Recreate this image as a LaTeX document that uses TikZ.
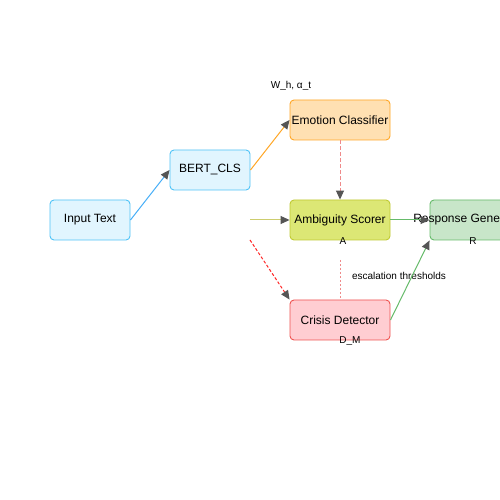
\documentclass[tikz,border=0pt]{standalone}
\usepackage{fontspec}
\setmainfont{Liberation Sans}
\usetikzlibrary{arrows.meta, positioning}

\definecolor{inFill}{HTML}{E1F5FE}
\definecolor{inDraw}{HTML}{4FC3F7}
\definecolor{emoFill}{HTML}{FFE0B2}
\definecolor{emoDraw}{HTML}{FFA726}
\definecolor{ambFill}{HTML}{DCE775}
\definecolor{ambDraw}{HTML}{C0CA33}
\definecolor{ambLine}{HTML}{CDCD6E}
\definecolor{resFill}{HTML}{C8E6C9}
\definecolor{resDraw}{HTML}{66BB6A}
\definecolor{criFill}{HTML}{FFCDD2}
\definecolor{criDraw}{HTML}{EF5350}
\definecolor{dashRed}{HTML}{EF8A8A}
\definecolor{headGray}{HTML}{555555}

\begin{document}
\begin{tikzpicture}[
    x=50pt, y=50pt,
    box/.style={rectangle, draw, rounded corners=4pt, line width=0.9pt, inner sep=0pt, text centered, minimum height=40pt, minimum width=80pt, font=\fontsize{12}{14}\selectfont},
    wide/.style={box, minimum width=100pt},
    tag/.style={font=\fontsize{10}{12}\selectfont, inner sep=1pt},
    arrow/.style={-{Triangle[length=9pt, width=8pt, color=headGray]}, line width=1pt}
]

% Fixed 500 x 500 frame, right box runs off the edge
\useasboundingbox (0,0) rectangle (10,10);
\fill[white] (0,0) rectangle (10,10);
\clip (0,0) rectangle (10,10);

% Input and encoder
\node[box, fill=inFill, draw=inDraw] (input) at (1.8, 5.6) {Input Text};
\node[box, fill=inFill, draw=inDraw] (bert) at (4.2, 6.6) {BERT\_CLS};

% Middle column
\node[wide, fill=emoFill, draw=emoDraw] (emotion) at (6.8, 7.6) {Emotion Classifier};
\node[wide, fill=ambFill, draw=ambDraw] (ambiguity) at (6.8, 5.6) {Ambiguity Scorer};
\node[wide, fill=criFill, draw=criDraw] (crisis) at (6.8, 3.6) {Crisis Detector};

% Output box (text runs past the box)
\node[wide, fill=resFill, draw=resDraw, label={[font=\fontsize{12}{14}\selectfont, xshift=-11pt]center:Response Generator}] (response) at (9.6, 5.6) {};

% Small labels
\node[tag] (weights) at (5.82, 8.28) {W\_h, α\_t};
\node[tag] (ambOut) at (6.86, 5.18) {A};
\node[tag] (resOut) at (9.46, 5.18) {R};
\node[tag] (criOut) at (7.0, 3.18) {D\_M};
\node[tag] (thresh) at (7.98, 4.48) {escalation thresholds};

% Free ends
\coordinate (ambIn) at (5.0, 5.6);
\coordinate (criIn) at (5.0, 5.2);
\coordinate (threshTop) at (6.8, 4.8);

% Connections
\draw[arrow, inDraw!90!blue] (input.east) -- (bert.west);
\draw[arrow, emoDraw] (bert.east) -- (emotion.west);
\draw[arrow, dashRed, dash pattern=on 4pt off 2pt] (emotion.south) -- (ambiguity.north);
\draw[arrow, ambLine] (ambIn) -- (ambiguity.west);
\draw[arrow, red!85, dash pattern=on 3pt off 2pt] (criIn) -- (crisis.north west);
\draw[arrow, resDraw] (ambiguity.east) -- (response.west);
\draw[arrow, resDraw] (crisis.east) -- (response.south west);
\draw[dashRed, line width=1pt, dash pattern=on 2pt off 2pt] (threshTop) -- (crisis.north);

\end{tikzpicture}
\end{document}
